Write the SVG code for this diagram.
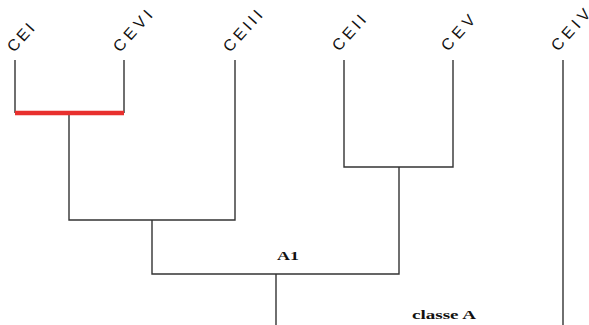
<svg xmlns="http://www.w3.org/2000/svg" width="589" height="325" viewBox="0 0 589 325">
<style>
.ln{stroke:#333;stroke-width:1.4;fill:none}
.red{stroke:#e8302e;stroke-width:4.5;fill:none}
.lbl{font-family:"Liberation Sans",Arial,sans-serif;font-size:16px;fill:#111}
.bt{font-family:"Liberation Serif","Times New Roman",serif;font-size:13px;font-weight:bold;fill:#111}
</style>
<rect width="589" height="325" fill="#fff"/>
<g id="connectors">
<path class="ln" d="M15,60V113M124,60V113"/>
<path class="ln" d="M69,113V220H235V60"/>
<path class="ln" d="M344,60V167H453V60"/>
<path class="ln" d="M152,220V274H399V167"/>
<path class="ln" d="M276,274V325"/>
<path class="ln" d="M563,60V325"/>
<path class="red" d="M15,113H124"/>
</g>
<g id="CEI" transform="matrix(0.669,-0.743,0.743,0.669,14,53)"><text class="lbl" x="0" y="0" textLength="32" lengthAdjust="spacing">CEI</text></g>
<g id="CEVI" transform="matrix(0.669,-0.743,0.743,0.669,120,53)"><text class="lbl" x="0" y="0" textLength="50" lengthAdjust="spacing">CEVI</text></g>
<g id="CEIII" transform="matrix(0.669,-0.743,0.743,0.669,230,53)"><text class="lbl" x="0" y="0" textLength="50" lengthAdjust="spacing">CEIII</text></g>
<g id="CEII" transform="matrix(0.669,-0.743,0.743,0.669,339,52)"><text class="lbl" x="0" y="0" textLength="42" lengthAdjust="spacing">CEII</text></g>
<g id="CEV" transform="matrix(0.669,-0.743,0.743,0.669,448,52)"><text class="lbl" x="0" y="0" textLength="42" lengthAdjust="spacing">CEV</text></g>
<g id="CEIV" transform="matrix(0.669,-0.743,0.743,0.669,558,52)"><text class="lbl" x="0" y="0" textLength="50" lengthAdjust="spacing">CEIV</text></g>
<g id="A1"><text class="bt" x="277" y="260" textLength="22" lengthAdjust="spacingAndGlyphs">A1</text></g>
<g id="classeA"><text class="bt" x="412" y="319" textLength="64" lengthAdjust="spacingAndGlyphs">classe A</text></g>
</svg>
